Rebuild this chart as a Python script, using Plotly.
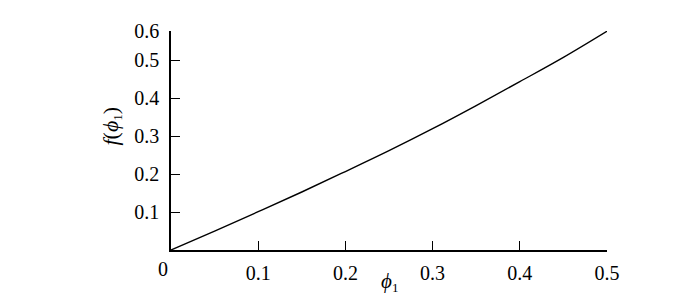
import plotly.graph_objects as go

# data
phi1 = [0, 0.05, 0.1, 0.15, 0.2, 0.25, 0.3, 0.35, 0.4, 0.45, 0.5]
f_phi1 = [0, 0.050, 0.101, 0.153, 0.207, 0.262, 0.320, 0.381, 0.444, 0.508, 0.577]

x_ticks = [0.1, 0.2, 0.3, 0.4, 0.5]
x_ticktext = ["0.1", "0.2", "0.3", "0.4", "0.5"]
y_top = 0.5776
y_ticks = [0.1, 0.2, 0.3, 0.4, 0.5, y_top]
y_ticktext = ["0.1", "0.2", "0.3", "0.4", "0.5", "0.6"]

FONT = "Liberation Serif"

fig = go.Figure()
fig.add_trace(go.Scatter(x=phi1, y=f_phi1, mode="lines",
                         line=dict(color="black", width=1.4, shape="spline"),
                         showlegend=False, hoverinfo="skip"))

fig.update_layout(
    width=700, height=296, autosize=False,
    margin=dict(l=163, r=101, t=15, b=54),
    plot_bgcolor="white", paper_bgcolor="white",
    font=dict(family=FONT, size=20, color="black"),
)
fig.update_xaxes(range=[0, 0.5], showgrid=False, zeroline=False,
                 showline=True, linecolor="black", linewidth=1.5,
                 ticks="inside", ticklen=9, tickwidth=1.2, tickcolor="black",
                 tickvals=x_ticks, ticktext=x_ticktext,
                 tickfont=dict(family=FONT, size=20, color="black"),
                 ticklabelstandoff=4)
fig.update_yaxes(range=[0, y_top], showgrid=False, zeroline=False,
                 showline=True, linecolor="black", linewidth=1.5,
                 ticks="inside", ticklen=9, tickwidth=1.2, tickcolor="black",
                 tickvals=y_ticks, ticktext=y_ticktext,
                 tickfont=dict(family=FONT, size=20, color="black"),
                 ticklabelstandoff=6)

fig.add_annotation(x=0, y=0, xref="x", yref="y", text="0", showarrow=False,
                   xanchor="center", yanchor="top", xshift=-8, yshift=-6,
                   font=dict(family=FONT, size=20, color="black"))
fig.add_annotation(x=0.25, y=0, xref="x", yref="paper",
                   text="<i>ϕ</i><sub><span style='font-size:13px'>1</span></sub>",
                   showarrow=False, xanchor="center", yanchor="top", yshift=-17,
                   font=dict(family=FONT, size=21, color="black"))
fig.add_annotation(x=0, y=0.5, xref="paper", yref="paper",
                   text="<i>f</i>(<i>ϕ</i><sub><span style='font-size:13px'>1</span></sub>)",
                   textangle=-90,
                   showarrow=False, xanchor="center", yanchor="middle",
                   xshift=-60, yshift=14,
                   font=dict(family=FONT, size=22, color="black"))

fig.write_html("out.html")
